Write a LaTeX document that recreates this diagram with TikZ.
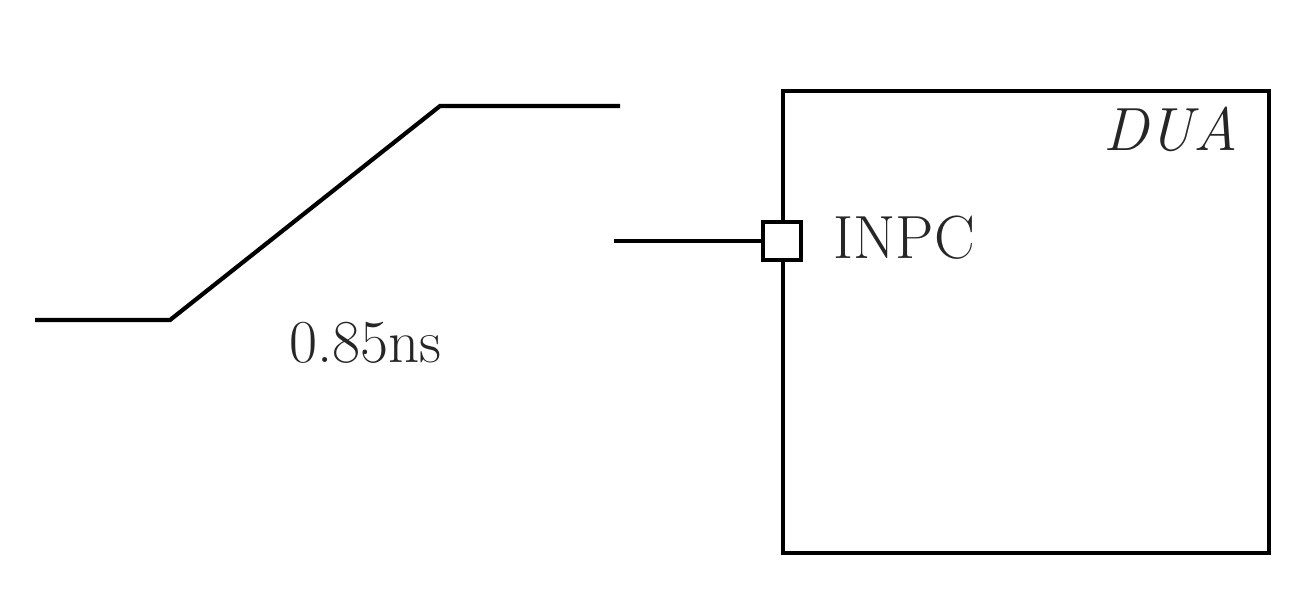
\documentclass[tikz,border=0pt]{standalone}
\begin{document}
\begin{tikzpicture}[x=0.5pt,y=-0.5pt,
  wire/.style={line width=2.1pt,line cap=butt,line join=miter},
  lbl/.style={inner sep=0pt,font=\fontsize{30.5}{36}\selectfont,text=black!85}]
\useasboundingbox (0,0) rectangle (1309,591);
% ramp waveform
\coordinate (r0) at (35,320);
\coordinate (r1) at (170,320);
\coordinate (r2) at (440,106);
\coordinate (r3) at (620,106);
\draw[wire] (r0) -- (r1) -- (r2) -- (r3);
\node[lbl,anchor=base west] (tr) at (289,362) {0.85ns};
% DUA box
\node[draw,line width=2.1pt,minimum width=243pt,minimum height=231pt,inner sep=0pt,outer sep=0pt] (dua) at (1026,322) {};
\node[lbl,anchor=base east] (duatxt) at (1238,150) {\itshape DUA};
% port
\node[draw,line width=2.4pt,fill=white,minimum size=19pt,inner sep=0pt,outer sep=0pt] (port) at (782,241) {};
\coordinate (src) at (614,241);
\draw[wire] (src) -- (port.west);
\node[lbl,anchor=base west] (inpc) at (833,258) {INPC};
\end{tikzpicture}
\end{document}
